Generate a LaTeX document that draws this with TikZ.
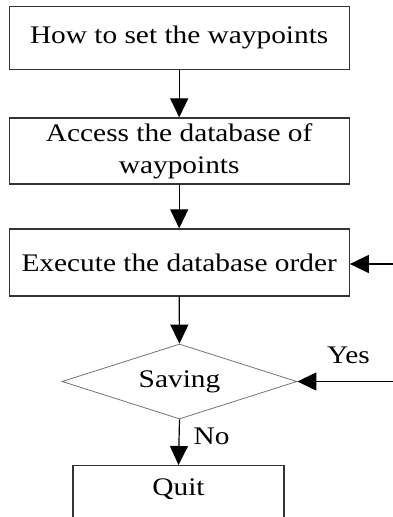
\documentclass[tikz,border=0pt]{standalone}
\usepackage{fontspec}
\setmainfont{Liberation Serif}[FakeStretch=1.16]
\usetikzlibrary{shapes.geometric,arrows.meta}
\begin{document}
\begin{tikzpicture}[x=1pt,y=-1pt,
  boxnode/.style={draw=black!80,line width=1.3pt,rectangle,inner sep=0pt,minimum width=340pt,align=center,font=\fontsize{25.3}{32}\selectfont},
  decision/.style={draw=black!55,line width=0.8pt,diamond,inner sep=0pt,aspect=3.13,minimum width=235pt,minimum height=75pt,font=\fontsize{25.3}{32}\selectfont},
  lbl/.style={inner sep=0pt,font=\fontsize{25.3}{32}\selectfont},
  flow/.style={line width=1.2pt,black,-{Triangle[length=19pt,width=18pt]}}]
\useasboundingbox (0,0) rectangle (393,517);
\node[boxnode,minimum height=63pt] (b1) at (179.2,37.8) {How to set the waypoints};
\node[boxnode,minimum height=66pt] (b2) at (179.2,151) {Access the database of\\waypoints};
\node[boxnode,minimum height=67pt] (b3) at (179.2,262.5) {Execute the database order};
\node[decision] (d) at (179.5,381.5) {Saving};
\node[boxnode,minimum width=211pt,text height=30pt,text depth=35pt,anchor=north] (q) at (178.5,465) {Quit};
\coordinate (e1) at (393,264);
\coordinate (e2) at (393,381.5);
\node[lbl] (yes) at (348.5,355) {Yes};
\node[lbl] (no) at (211.5,436) {No};
\draw[flow] (b1) -- (b2);
\draw[flow] (b2) -- (b3);
\draw[flow] (b3) -- (d);
\draw[flow] (d.south) -- (q.north);
\draw[flow] (e1) -- (e1 -| b3.east);
\draw[flow] (e2) -- (d.east);
\end{tikzpicture}
\end{document}
